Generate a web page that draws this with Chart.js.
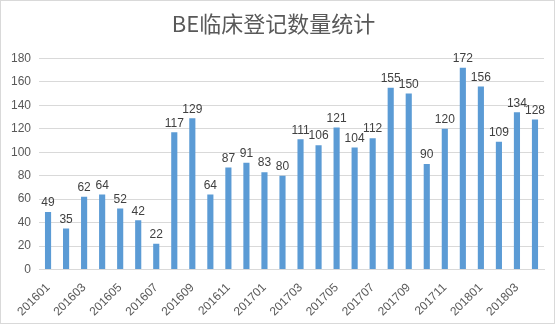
<!DOCTYPE html>
<html>
<head>
<meta charset="utf-8">
<script src="https://cdn.jsdelivr.net/npm/chart.js@4"></script>
<style>
  html, body { margin: 0; padding: 0; background: #fff; }
  #wrap { width: 555px; height: 324px; box-sizing: border-box; border: 1px solid #d9d9d9; }
</style>
</head>
<body>
<div id="wrap"><canvas id="beChart" width="553" height="322"></canvas></div>
<script>
// monthly BE registrations, 2016-01 .. 2018-04
const months = [
  '201601', '201602', '201603', '201604', '201605', '201606', '201607', '201608',
  '201609', '201610', '201611', '201612', '201701', '201702', '201703', '201704',
  '201705', '201706', '201707', '201708', '201709', '201710', '201711', '201712',
  '201801', '201802', '201803', '201804'
];
const counts = [
  49, 35, 62, 64, 52, 42, 22, 117, 129, 64, 87, 91, 83, 80,
  111, 106, 121, 104, 112, 155, 150, 90, 120, 172, 156, 109, 134, 128
];
const yTicks = [0, 20, 40, 60, 80, 100, 120, 140, 160, 180];

const labelFont = '"Liberation Sans", "Noto Sans", sans-serif';

// value labels above each bar
const barValues = {
  id: 'barValues',
  afterDatasetsDraw(chart) {
    const { ctx } = chart;
    const meta = chart.getDatasetMeta(0);
    ctx.save();
    ctx.font = '12px ' + labelFont;
    ctx.fillStyle = '#404040';
    ctx.textAlign = 'center';
    ctx.textBaseline = 'bottom';
    meta.data.forEach((bar, i) => {
      ctx.fillText(String(counts[i]), bar.x, bar.y - 3);
    });
    ctx.restore();
  }
};

new Chart(document.getElementById('beChart'), {
  type: 'bar',
  data: {
    labels: months,
    datasets: [{
      data: counts,
      backgroundColor: '#5b9bd5',
      categoryPercentage: 1,
      barPercentage: 0.34
    }]
  },
  options: {
    responsive: false,
    animation: false,
    layout: { padding: { left: 2, right: 10, top: 0, bottom: 1 } },
    plugins: {
      legend: { display: false },
      tooltip: { enabled: false },
      title: {
        display: true,
        text: 'BE临床登记数量统计',
        color: '#595959',
        font: { family: '"Noto Sans CJK SC", sans-serif', size: 22, weight: 'normal' },
        padding: { top: 9, bottom: 22 }
      }
    },
    scales: {
      x: {
        grid: { display: false },
        border: { color: '#d9d9d9' },
        ticks: {
          autoSkip: false,
          maxRotation: 45,
          minRotation: 45,
          color: '#595959',
          font: { family: labelFont, size: 12 },
          callback: (v, i) => (i % 2 === 0 ? months[i] : '')
        }
      },
      y: {
        min: 0,
        max: 180,
        afterBuildTicks: axis => { axis.ticks = yTicks.map(v => ({ value: v })); },
        grid: { color: '#d9d9d9', drawTicks: false },
        border: { display: false },
        ticks: {
          color: '#595959',
          padding: 8,
          font: { family: labelFont, size: 12 }
        }
      }
    }
  },
  plugins: [barValues]
});
</script>
</body>
</html>
